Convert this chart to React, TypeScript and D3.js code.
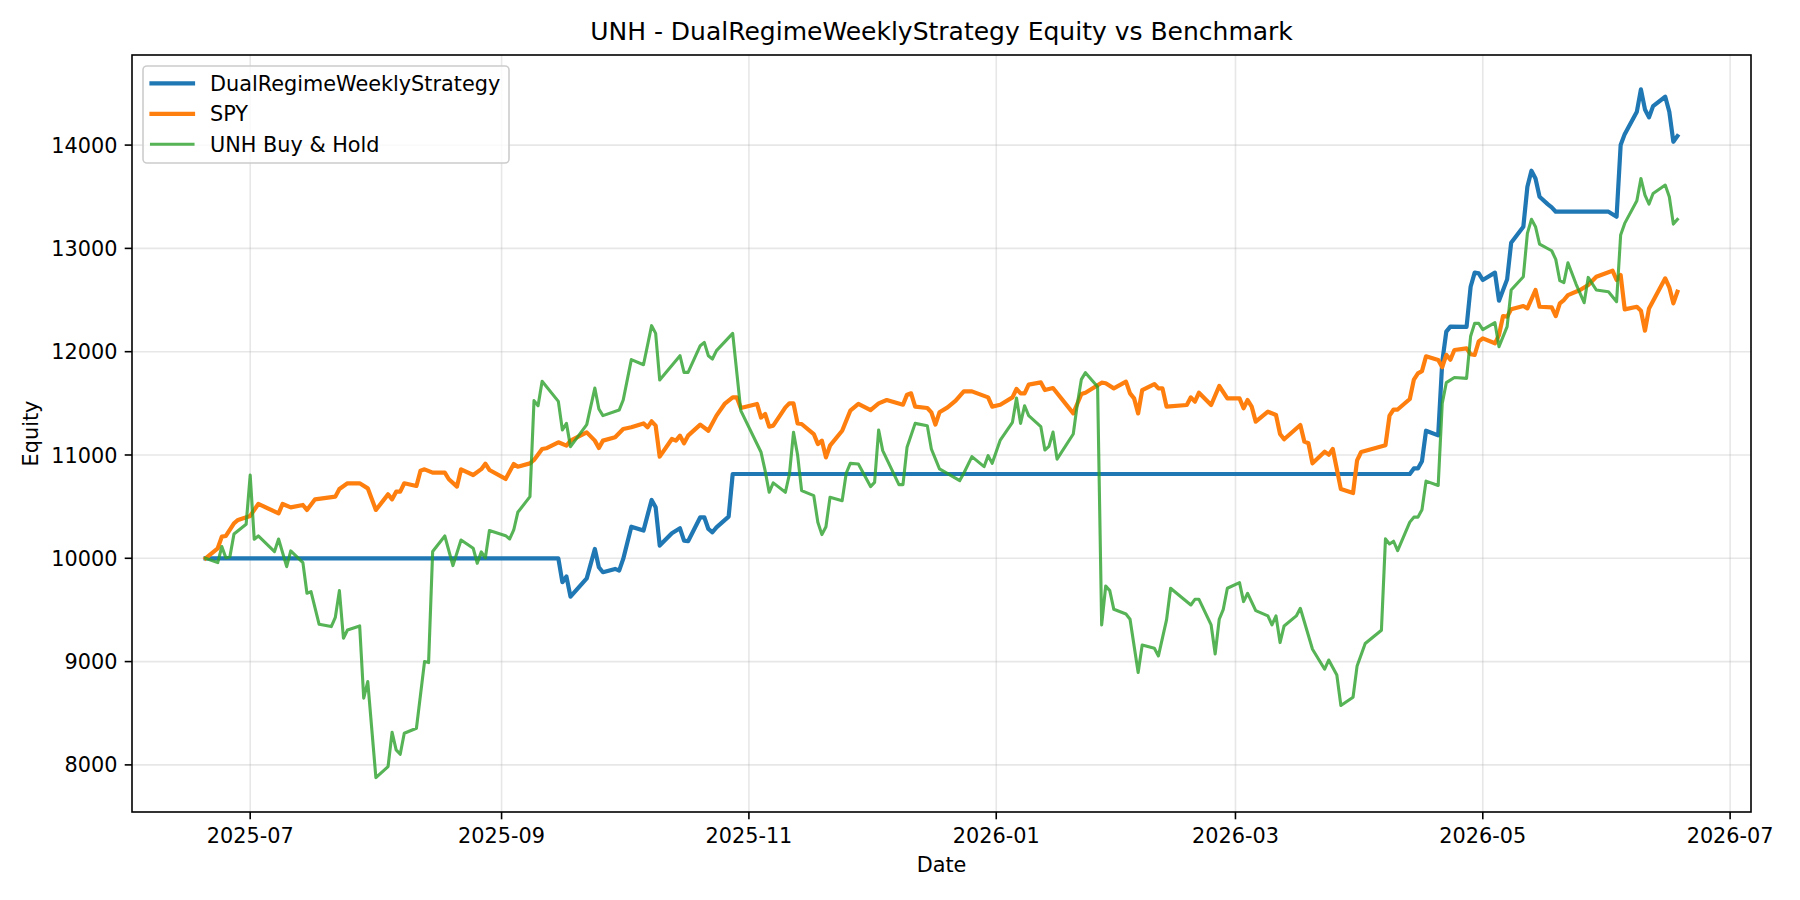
import { useEffect, useRef } from "react"
import * as d3 from "d3"

// Equity curves (date, equity)
const strategy: [string, number][] = [
  ["2025-06-20", 10000], ["2025-09-15", 10000], ["2025-09-16", 9768], ["2025-09-17", 9823],
  ["2025-09-18", 9629], ["2025-09-22", 9806], ["2025-09-24", 10090], ["2025-09-25", 9913],
  ["2025-09-26", 9865], ["2025-09-29", 9897], ["2025-09-30", 9881], ["2025-10-01", 9994],
  ["2025-10-03", 10306], ["2025-10-06", 10268], ["2025-10-08", 10565], ["2025-10-09", 10494],
  ["2025-10-10", 10123], ["2025-10-13", 10242], ["2025-10-15", 10290], ["2025-10-16", 10171],
  ["2025-10-17", 10165], ["2025-10-20", 10397], ["2025-10-21", 10397], ["2025-10-22", 10284],
  ["2025-10-23", 10252], ["2025-10-24", 10300], ["2025-10-27", 10403], ["2025-10-28", 10816],
  ["2026-04-13", 10816], ["2026-04-14", 10870], ["2026-04-15", 10870], ["2026-04-16", 10940],
  ["2026-04-17", 11235], ["2026-04-20", 11190], ["2026-04-21", 11900], ["2026-04-22", 12194],
  ["2026-04-23", 12243], ["2026-04-27", 12240], ["2026-04-28", 12629], ["2026-04-29", 12765],
  ["2026-04-30", 12758], ["2026-05-01", 12694], ["2026-05-04", 12765], ["2026-05-05", 12494],
  ["2026-05-07", 12700], ["2026-05-08", 13055], ["2026-05-11", 13210], ["2026-05-12", 13597],
  ["2026-05-13", 13752], ["2026-05-14", 13677], ["2026-05-15", 13500], ["2026-05-17", 13429],
  ["2026-05-18", 13397], ["2026-05-19", 13355], ["2026-06-01", 13355], ["2026-06-03", 13307],
  ["2026-06-04", 14000], ["2026-06-05", 14106], ["2026-06-08", 14323], ["2026-06-09", 14539],
  ["2026-06-10", 14345], ["2026-06-11", 14268], ["2026-06-12", 14377], ["2026-06-15", 14468],
  ["2026-06-16", 14323], ["2026-06-17", 14032], ["2026-06-18", 14087],
]

const spy: [string, number][] = [
  ["2025-06-20", 10000], ["2025-06-23", 10097], ["2025-06-24", 10210], ["2025-06-25", 10216],
  ["2025-06-27", 10339], ["2025-06-28", 10371], ["2025-07-01", 10410], ["2025-07-03", 10526],
  ["2025-07-08", 10435], ["2025-07-09", 10526], ["2025-07-11", 10493], ["2025-07-14", 10516],
  ["2025-07-15", 10468], ["2025-07-17", 10571], ["2025-07-22", 10597], ["2025-07-23", 10671],
  ["2025-07-25", 10726], ["2025-07-28", 10726], ["2025-07-30", 10677], ["2025-08-01", 10468],
  ["2025-08-04", 10619], ["2025-08-05", 10571], ["2025-08-06", 10645], ["2025-08-07", 10645],
  ["2025-08-08", 10726], ["2025-08-11", 10700], ["2025-08-12", 10848], ["2025-08-13", 10861],
  ["2025-08-15", 10829], ["2025-08-18", 10829], ["2025-08-19", 10765], ["2025-08-21", 10694],
  ["2025-08-22", 10861], ["2025-08-25", 10806], ["2025-08-27", 10863], ["2025-08-28", 10916],
  ["2025-08-29", 10855], ["2025-09-02", 10768], ["2025-09-04", 10913], ["2025-09-05", 10887],
  ["2025-09-08", 10919], ["2025-09-09", 10952], ["2025-09-11", 11058], ["2025-09-12", 11065],
  ["2025-09-15", 11123], ["2025-09-17", 11090], ["2025-09-18", 11139], ["2025-09-22", 11219],
  ["2025-09-24", 11139], ["2025-09-25", 11068], ["2025-09-26", 11139], ["2025-09-29", 11171],
  ["2025-10-01", 11252], ["2025-10-03", 11268], ["2025-10-06", 11306], ["2025-10-07", 11268],
  ["2025-10-08", 11326], ["2025-10-09", 11284], ["2025-10-10", 10984], ["2025-10-13", 11155],
  ["2025-10-14", 11139], ["2025-10-15", 11187], ["2025-10-16", 11113], ["2025-10-17", 11187],
  ["2025-10-20", 11294], ["2025-10-22", 11235], ["2025-10-24", 11381], ["2025-10-26", 11494],
  ["2025-10-28", 11558], ["2025-10-29", 11558], ["2025-10-30", 11455], ["2025-11-03", 11494],
  ["2025-11-04", 11362], ["2025-11-05", 11397], ["2025-11-06", 11274], ["2025-11-07", 11284],
  ["2025-11-10", 11461], ["2025-11-11", 11500], ["2025-11-12", 11500], ["2025-11-13", 11306],
  ["2025-11-14", 11300], ["2025-11-17", 11203], ["2025-11-18", 11106], ["2025-11-19", 11139],
  ["2025-11-20", 10977], ["2025-11-21", 11090], ["2025-11-24", 11235], ["2025-11-26", 11429],
  ["2025-11-28", 11494], ["2025-12-01", 11435], ["2025-12-03", 11500], ["2025-12-05", 11532],
  ["2025-12-09", 11487], ["2025-12-10", 11584], ["2025-12-11", 11597], ["2025-12-12", 11468],
  ["2025-12-15", 11455], ["2025-12-16", 11413], ["2025-12-17", 11294], ["2025-12-18", 11413],
  ["2025-12-20", 11461], ["2025-12-22", 11526], ["2025-12-24", 11616], ["2025-12-26", 11616],
  ["2025-12-30", 11558], ["2025-12-31", 11468], ["2026-01-02", 11487], ["2026-01-05", 11558],
  ["2026-01-06", 11639], ["2026-01-07", 11597], ["2026-01-08", 11597], ["2026-01-09", 11681],
  ["2026-01-12", 11703], ["2026-01-13", 11629], ["2026-01-15", 11648], ["2026-01-20", 11403],
  ["2026-01-22", 11590], ["2026-01-23", 11603], ["2026-01-27", 11700], ["2026-01-28", 11694],
  ["2026-01-30", 11645], ["2026-02-02", 11710], ["2026-02-03", 11597], ["2026-02-04", 11548],
  ["2026-02-05", 11403], ["2026-02-06", 11629], ["2026-02-09", 11687], ["2026-02-10", 11645],
  ["2026-02-11", 11645], ["2026-02-12", 11468], ["2026-02-17", 11484], ["2026-02-18", 11558],
  ["2026-02-19", 11516], ["2026-02-20", 11603], ["2026-02-23", 11484], ["2026-02-25", 11668],
  ["2026-02-27", 11548], ["2026-03-02", 11548], ["2026-03-03", 11452], ["2026-03-04", 11532],
  ["2026-03-05", 11468], ["2026-03-06", 11323], ["2026-03-09", 11419], ["2026-03-11", 11387],
  ["2026-03-12", 11203], ["2026-03-13", 11152], ["2026-03-17", 11290], ["2026-03-18", 11129],
  ["2026-03-19", 11113], ["2026-03-20", 10919], ["2026-03-23", 11032], ["2026-03-24", 11003],
  ["2026-03-25", 11058], ["2026-03-27", 10670], ["2026-03-30", 10632], ["2026-03-31", 10948],
  ["2026-04-01", 11029], ["2026-04-07", 11094], ["2026-04-08", 11381], ["2026-04-09", 11440],
  ["2026-04-10", 11440], ["2026-04-13", 11542], ["2026-04-14", 11730], ["2026-04-15", 11790],
  ["2026-04-16", 11812], ["2026-04-17", 11955], ["2026-04-20", 11919], ["2026-04-21", 11850],
  ["2026-04-22", 11970], ["2026-04-23", 11922], ["2026-04-24", 12016], ["2026-04-27", 12032],
  ["2026-04-28", 11975], ["2026-04-29", 11968], ["2026-04-30", 12100], ["2026-05-01", 12129],
  ["2026-05-04", 12081], ["2026-05-05", 12161], ["2026-05-06", 12345], ["2026-05-07", 12339],
  ["2026-05-08", 12410], ["2026-05-11", 12442], ["2026-05-12", 12419], ["2026-05-14", 12597],
  ["2026-05-15", 12435], ["2026-05-18", 12429], ["2026-05-19", 12345], ["2026-05-20", 12468],
  ["2026-05-21", 12500], ["2026-05-22", 12548], ["2026-05-25", 12597], ["2026-05-27", 12645],
  ["2026-05-29", 12726], ["2026-06-02", 12784], ["2026-06-03", 12694], ["2026-06-04", 12742],
  ["2026-06-05", 12410], ["2026-06-08", 12435], ["2026-06-09", 12397], ["2026-06-10", 12203],
  ["2026-06-11", 12419], ["2026-06-15", 12710], ["2026-06-16", 12623], ["2026-06-17", 12468],
  ["2026-06-18", 12581],
]

const unh: [string, number][] = [
  ["2025-06-20", 10000], ["2025-06-23", 9958], ["2025-06-24", 10113], ["2025-06-25", 10006],
  ["2025-06-26", 10016], ["2025-06-27", 10235], ["2025-06-30", 10329], ["2025-07-01", 10806],
  ["2025-07-02", 10184], ["2025-07-03", 10216], ["2025-07-07", 10065], ["2025-07-08", 10187],
  ["2025-07-10", 9919], ["2025-07-11", 10071], ["2025-07-14", 9958], ["2025-07-15", 9661],
  ["2025-07-16", 9677], ["2025-07-18", 9361], ["2025-07-21", 9339], ["2025-07-22", 9429],
  ["2025-07-23", 9687], ["2025-07-24", 9226], ["2025-07-25", 9306], ["2025-07-28", 9345],
  ["2025-07-29", 8645], ["2025-07-30", 8806], ["2025-08-01", 7877], ["2025-08-04", 7984],
  ["2025-08-05", 8316], ["2025-08-06", 8145], ["2025-08-07", 8103], ["2025-08-08", 8306],
  ["2025-08-11", 8355], ["2025-08-13", 9000], ["2025-08-14", 8990], ["2025-08-15", 10065],
  ["2025-08-18", 10216], ["2025-08-20", 9929], ["2025-08-22", 10177], ["2025-08-25", 10097],
  ["2025-08-26", 9952], ["2025-08-27", 10062], ["2025-08-28", 10004], ["2025-08-29", 10268],
  ["2025-09-02", 10219], ["2025-09-03", 10187], ["2025-09-04", 10274], ["2025-09-05", 10445],
  ["2025-09-08", 10597], ["2025-09-09", 11526], ["2025-09-10", 11477], ["2025-09-11", 11713],
  ["2025-09-15", 11519], ["2025-09-16", 11242], ["2025-09-17", 11306], ["2025-09-18", 11081],
  ["2025-09-22", 11294], ["2025-09-24", 11648], ["2025-09-25", 11445], ["2025-09-26", 11381],
  ["2025-09-30", 11435], ["2025-10-01", 11532], ["2025-10-03", 11923], ["2025-10-06", 11874],
  ["2025-10-08", 12252], ["2025-10-09", 12177], ["2025-10-10", 11726], ["2025-10-15", 11961],
  ["2025-10-16", 11800], ["2025-10-17", 11800], ["2025-10-20", 12058], ["2025-10-21", 12090],
  ["2025-10-22", 11961], ["2025-10-23", 11929], ["2025-10-24", 12010], ["2025-10-28", 12177],
  ["2025-10-30", 11429], ["2025-11-04", 11026], ["2025-11-05", 10848], ["2025-11-06", 10639],
  ["2025-11-07", 10730], ["2025-11-10", 10639], ["2025-11-11", 10816], ["2025-11-12", 11219],
  ["2025-11-13", 11003], ["2025-11-14", 10655], ["2025-11-17", 10606], ["2025-11-18", 10348],
  ["2025-11-19", 10229], ["2025-11-20", 10306], ["2025-11-21", 10590], ["2025-11-24", 10558],
  ["2025-11-25", 10823], ["2025-11-26", 10919], ["2025-11-28", 10913], ["2025-12-01", 10694],
  ["2025-12-02", 10735], ["2025-12-03", 11242], ["2025-12-04", 11042], ["2025-12-08", 10713],
  ["2025-12-09", 10713], ["2025-12-10", 11074], ["2025-12-12", 11306], ["2025-12-15", 11284],
  ["2025-12-16", 11058], ["2025-12-18", 10865], ["2025-12-23", 10752], ["2025-12-24", 10823],
  ["2025-12-26", 10984], ["2025-12-29", 10887], ["2025-12-30", 10994], ["2025-12-31", 10919],
  ["2026-01-02", 11145], ["2026-01-05", 11316], ["2026-01-06", 11552], ["2026-01-07", 11306],
  ["2026-01-08", 11477], ["2026-01-09", 11381], ["2026-01-12", 11274], ["2026-01-13", 11048],
  ["2026-01-14", 11084], ["2026-01-15", 11222], ["2026-01-16", 10960], ["2026-01-20", 11203],
  ["2026-01-21", 11494], ["2026-01-22", 11732], ["2026-01-23", 11797], ["2026-01-26", 11661],
  ["2026-01-27", 9355], ["2026-01-28", 9732], ["2026-01-29", 9687], ["2026-01-30", 9506],
  ["2026-02-02", 9461], ["2026-02-03", 9410], ["2026-02-05", 8894], ["2026-02-06", 9161],
  ["2026-02-09", 9129], ["2026-02-10", 9055], ["2026-02-12", 9403], ["2026-02-13", 9710],
  ["2026-02-18", 9548], ["2026-02-19", 9603], ["2026-02-20", 9603], ["2026-02-23", 9355],
  ["2026-02-24", 9074], ["2026-02-25", 9410], ["2026-02-26", 9506], ["2026-02-27", 9710],
  ["2026-03-02", 9765], ["2026-03-03", 9581], ["2026-03-04", 9661], ["2026-03-06", 9494],
  ["2026-03-09", 9442], ["2026-03-10", 9355], ["2026-03-11", 9442], ["2026-03-12", 9184],
  ["2026-03-13", 9345], ["2026-03-16", 9442], ["2026-03-17", 9516], ["2026-03-20", 9119],
  ["2026-03-23", 8926], ["2026-03-24", 9015], ["2026-03-26", 8870], ["2026-03-27", 8575],
  ["2026-03-30", 8655], ["2026-03-31", 8958], ["2026-04-02", 9175], ["2026-04-06", 9304],
  ["2026-04-07", 10188], ["2026-04-08", 10139], ["2026-04-09", 10165], ["2026-04-10", 10074],
  ["2026-04-13", 10350], ["2026-04-14", 10398], ["2026-04-15", 10398], ["2026-04-16", 10469],
  ["2026-04-17", 10747], ["2026-04-20", 10705], ["2026-04-21", 11500], ["2026-04-22", 11700],
  ["2026-04-24", 11750], ["2026-04-27", 11742], ["2026-04-28", 12150], ["2026-04-29", 12275],
  ["2026-04-30", 12274], ["2026-05-01", 12213], ["2026-05-04", 12281], ["2026-05-05", 12049],
  ["2026-05-07", 12242], ["2026-05-08", 12597], ["2026-05-11", 12726], ["2026-05-12", 13145],
  ["2026-05-13", 13281], ["2026-05-14", 13210], ["2026-05-15", 13042], ["2026-05-18", 12977],
  ["2026-05-19", 12894], ["2026-05-20", 12687], ["2026-05-21", 12668], ["2026-05-22", 12861],
  ["2026-05-24", 12655], ["2026-05-26", 12474], ["2026-05-27", 12719], ["2026-05-29", 12597],
  ["2026-06-01", 12581], ["2026-06-03", 12484], ["2026-06-04", 13129], ["2026-06-05", 13242],
  ["2026-06-08", 13461], ["2026-06-09", 13677], ["2026-06-10", 13516], ["2026-06-11", 13429],
  ["2026-06-12", 13532], ["2026-06-15", 13613], ["2026-06-16", 13500], ["2026-06-17", 13235],
  ["2026-06-18", 13281],
]

const seriesNames = ["DualRegimeWeeklyStrategy", "SPY", "UNH Buy & Hold"]
const seriesColors = ["#1f77b4", "#ff7f0e", "#2ca02c"]
const xTickLabels = ["2025-07", "2025-09", "2025-11", "2026-01", "2026-03", "2026-05", "2026-07"]
const yTicks = [8000, 9000, 10000, 11000, 12000, 13000, 14000]

export default function App() {
  const svgRef = useRef<SVGSVGElement>(null)

  useEffect(() => {
    if (!svgRef.current) return
    const svg = d3.select(svgRef.current)
    svg.selectAll("*").remove()

    const width = 1800
    const height = 900
    const margin = { top: 55, right: 49, bottom: 88, left: 132 }
    const font = "DejaVu Sans, sans-serif"

    svg.attr("width", width).attr("height", height)
    svg.append("rect").attr("width", width).attr("height", height).attr("fill", "#fff")

    const parse = d3.timeParse("%Y-%m-%d")
    const parseMonth = d3.timeParse("%Y-%m")
    const allSeries = [strategy, spy, unh].map(s => s.map(([d, v]) => ({ date: parse(d) as Date, value: v })))
    const flat = allSeries.flat()

    // matplotlib-style 5% padding
    const [x0, x1] = d3.extent(flat, d => d.date.getTime()) as [number, number]
    const [y0, y1] = d3.extent(flat, d => d.value) as [number, number]
    const xPad = (x1 - x0) * 0.05
    const yPad = (y1 - y0) * 0.05

    const x = d3.scaleTime()
      .domain([new Date(x0 - xPad), new Date(x1 + xPad)])
      .range([margin.left, width - margin.right])
    const y = d3.scaleLinear()
      .domain([y0 - yPad, y1 + yPad])
      .range([height - margin.bottom, margin.top])

    const xTicks = xTickLabels.map(t => parseMonth(t) as Date)
    const plotBottom = height - margin.bottom
    const plotRight = width - margin.right

    // Grid
    const grid = svg.append("g")
    xTicks.forEach(t => {
      grid.append("line")
        .attr("x1", x(t)).attr("x2", x(t))
        .attr("y1", margin.top).attr("y2", plotBottom)
        .attr("stroke", "#b0b0b0").attr("stroke-opacity", 0.3).attr("stroke-width", 1.6)
    })
    yTicks.forEach(t => {
      grid.append("line")
        .attr("x1", margin.left).attr("x2", plotRight)
        .attr("y1", y(t)).attr("y2", y(t))
        .attr("stroke", "#b0b0b0").attr("stroke-opacity", 0.3).attr("stroke-width", 1.6)
    })

    // Lines
    const line = d3.line<{ date: Date; value: number }>()
      .x(d => x(d.date))
      .y(d => y(d.value))

    allSeries.forEach((s, i) => {
      svg.append("path")
        .datum(s)
        .attr("fill", "none")
        .attr("stroke", seriesColors[i])
        .attr("stroke-width", i === 2 ? 3.1 : 4.2)
        .attr("stroke-opacity", i === 2 ? 0.8 : 1)
        .attr("stroke-linejoin", "round")
        .attr("stroke-linecap", "square")
        .attr("d", line)
    })

    // Spines
    svg.append("rect")
      .attr("x", margin.left).attr("y", margin.top)
      .attr("width", plotRight - margin.left).attr("height", plotBottom - margin.top)
      .attr("fill", "none").attr("stroke", "#000").attr("stroke-width", 1.6)

    // X ticks
    xTicks.forEach((t, i) => {
      svg.append("line")
        .attr("x1", x(t)).attr("x2", x(t))
        .attr("y1", plotBottom).attr("y2", plotBottom + 7.3)
        .attr("stroke", "#000").attr("stroke-width", 1.6)
      svg.append("text")
        .attr("x", x(t)).attr("y", 843)
        .attr("text-anchor", "middle")
        .attr("font-family", font).attr("font-size", 20.8)
        .text(xTickLabels[i])
    })

    // Y ticks
    yTicks.forEach(t => {
      svg.append("line")
        .attr("x1", margin.left - 7.3).attr("x2", margin.left)
        .attr("y1", y(t)).attr("y2", y(t))
        .attr("stroke", "#000").attr("stroke-width", 1.6)
      svg.append("text")
        .attr("x", margin.left - 14.6).attr("y", y(t) + 7.6)
        .attr("text-anchor", "end")
        .attr("font-family", font).attr("font-size", 20.8)
        .text(String(t))
    })

    // Axis labels and title
    svg.append("text")
      .attr("x", (margin.left + plotRight) / 2).attr("y", 872)
      .attr("text-anchor", "middle")
      .attr("font-family", font).attr("font-size", 20.8)
      .text("Date")

    svg.append("text")
      .attr("transform", `translate(38,${(margin.top + plotBottom) / 2}) rotate(-90)`)
      .attr("text-anchor", "middle")
      .attr("font-family", font).attr("font-size", 20.8)
      .text("Equity")

    svg.append("text")
      .attr("x", (margin.left + plotRight) / 2).attr("y", 40)
      .attr("text-anchor", "middle")
      .attr("font-family", font).attr("font-size", 25)
      .text("UNH - DualRegimeWeeklyStrategy Equity vs Benchmark")

    // Legend
    const legend = svg.append("g")
    legend.append("rect")
      .attr("x", 143).attr("y", 66)
      .attr("width", 366).attr("height", 97)
      .attr("rx", 4)
      .attr("fill", "#fff").attr("fill-opacity", 0.8)
      .attr("stroke", "#cccccc").attr("stroke-width", 1.6)

    seriesNames.forEach((name, i) => {
      const cy = 83.3 + i * 30.5
      legend.append("line")
        .attr("x1", 151.5).attr("x2", 193)
        .attr("y1", cy).attr("y2", cy)
        .attr("stroke", seriesColors[i])
        .attr("stroke-width", i === 2 ? 3.1 : 4.2)
        .attr("stroke-opacity", i === 2 ? 0.8 : 1)
        .attr("stroke-linecap", "square")
      legend.append("text")
        .attr("x", 210).attr("y", cy + 7.4)
        .attr("font-family", font).attr("font-size", 20.8)
        .text(name)
    })
  }, [])

  return (
    <div style={{ position: "absolute", left: 0, top: 0 }}>
      <svg ref={svgRef} style={{ display: "block" }}></svg>
    </div>
  )
}
